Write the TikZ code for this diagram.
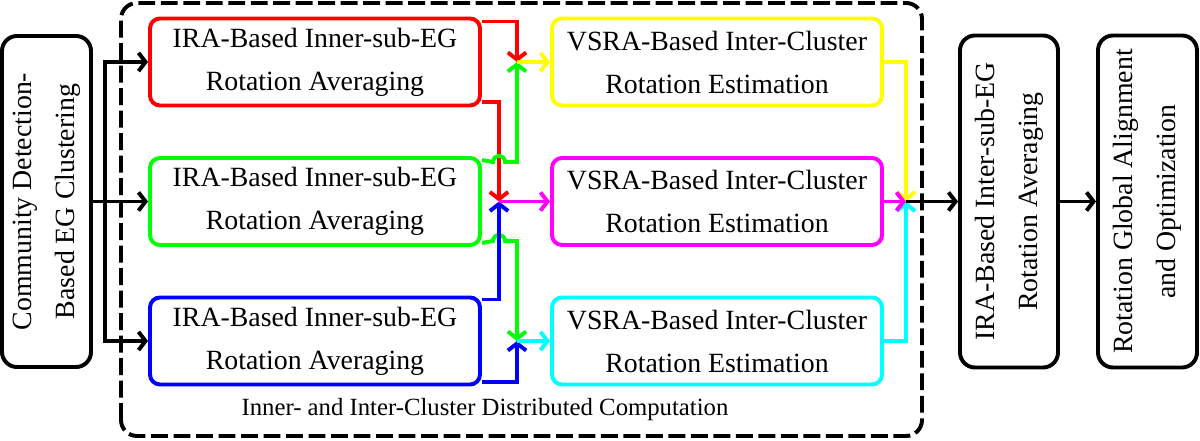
\documentclass[tikz,border=0pt]{standalone}
\usepackage{fontspec}
\setmainfont{Liberation Serif}
\usetikzlibrary{arrows.meta}
\definecolor{pathR}{RGB}{255,0,0}
\definecolor{pathG}{RGB}{0,255,0}
\definecolor{pathB}{RGB}{0,0,255}
\definecolor{pathY}{RGB}{255,255,0}
\definecolor{pathM}{RGB}{255,0,255}
\definecolor{pathC}{RGB}{0,255,255}
\tikzset{
  txt/.style={font=\fontsize{19.8}{30.6}\selectfont, align=center},
  subbox/.style={txt, draw, line width=2.8pt, rounded corners=0.25cm, minimum width=8.25cm, minimum height=2.175cm, inner sep=2pt},
  bigbox/.style={txt, draw=black, line width=2.8pt, rounded corners=0.375cm, rotate=90, inner sep=2pt},
  link/.style={line width=2.8pt, -{Straight Barb[length=5pt,width=13pt]}},
}
\begin{document}
\begin{tikzpicture}
\useasboundingbox (0,0) rectangle (30,11);
% distributed computation frame
\draw[line width=2.8pt, dash pattern=on 12pt off 4pt, rounded corners=0.4cm] (3.025,0.1) rectangle (23.05,10.925);
\node[font=\fontsize{17.6}{21}\selectfont] (caption) at (12.125,0.75) {Inner- and Inter-Cluster Distributed Computation};

\node[bigbox, minimum width=8.275cm, minimum height=2.225cm] (clus) at (1.1625,5.9625) {Community Detection-\\Based EG Clustering};

\node[subbox, draw=pathR] (ira1) at (7.875,9.45) {IRA-Based Inner-sub-EG\\Rotation Averaging};
\node[subbox, draw=pathG] (ira2) at (7.875,5.9625) {IRA-Based Inner-sub-EG\\Rotation Averaging};
\node[subbox, draw=pathB] (ira3) at (7.875,2.475) {IRA-Based Inner-sub-EG\\Rotation Averaging};

\node[subbox, draw=pathY] (vsra1) at (17.925,9.45) {VSRA-Based Inter-Cluster\\Rotation Estimation};
\node[subbox, draw=pathM] (vsra2) at (17.925,5.9625) {VSRA-Based Inter-Cluster\\Rotation Estimation};
\node[subbox, draw=pathC] (vsra3) at (17.925,2.475) {VSRA-Based Inter-Cluster\\Rotation Estimation};

\node[bigbox, minimum width=8.3cm, minimum height=2.45cm] (inter) at (25.225,5.9625) {IRA-Based Inter-sub-EG\\Rotation Averaging};
\node[bigbox, minimum width=8.3cm, minimum height=2.475cm] (glob) at (28.6875,5.9625) {Rotation Global Alignment\\and Optimization};

\coordinate (split) at (2.625,5.9625);
\coordinate (jA) at (12.925,9.45);
\coordinate (jB) at (12.475,5.9625);
\coordinate (jC) at (12.925,2.475);
\coordinate (jD) at (22.65,5.9625);

% clustering to sub-EGs
\draw[link] (clus.south) -- (ira2.west);
\draw[link] (split) |- (ira1.west);
\draw[link] (split) |- (ira3.west);

% sub-EGs to cluster pairs
\draw[link, pathR] ([yshift=-0.125cm]ira1.north east) -| (jA);
\draw[link, pathR] ([yshift=0.125cm]ira1.south east) -| (jB);
\draw[link, pathG] ([yshift=-0.1cm]ira2.north east) -- (12.325,6.95) arc[start angle=180, end angle=0, radius=0.15] -- (12.925,6.95) -- (jA);
\draw[link, pathG] ([yshift=0.1cm]ira2.south east) -- (12.325,4.975) arc[start angle=180, end angle=0, radius=0.15] -- (12.925,4.975) -- (jC);
\draw[link, pathB] ([yshift=-0.1cm]ira3.north east) -| (jB);
\draw[link, pathB] ([yshift=0.1cm]ira3.south east) -| (jC);

\draw[link, pathY] (jA) -- (vsra1.west);
\draw[link, pathM] (jB) -- (vsra2.west);
\draw[link, pathC] (jC) -- (vsra3.west);

% cluster pairs to global
\draw[link, pathY] (vsra1.east) -| (jD);
\draw[link, pathC] (vsra3.east) -| (jD);
\draw[link, pathM] (vsra2.east) -- (jD);
\draw[link] (jD) -- (inter.north);
\draw[link] (inter.south) -- (glob.north);

\end{tikzpicture}
\end{document}
